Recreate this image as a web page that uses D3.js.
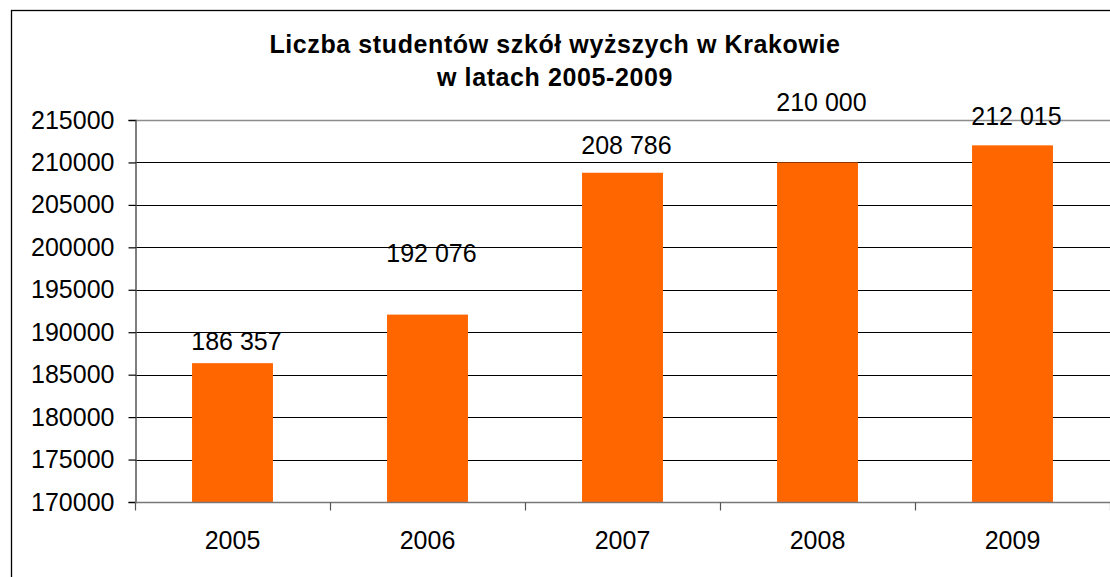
<!DOCTYPE html>
<html>
<head>
<meta charset="utf-8">
<script src="https://cdn.jsdelivr.net/npm/d3@7"></script>
<style>
  body { margin: 0; background: #fff; }
  svg { display: block; font-family: "Liberation Sans", Arial, sans-serif; }
</style>
</head>
<body>
<div id="chart"></div>
<script>
// Liczba studentów – słupki z etykietami wartości

const years = ["2005", "2006", "2007", "2008", "2009"];
const students = [186357, 192076, 208786, 210000, 212015];
const yTicks = [170000, 175000, 180000, 185000, 190000, 195000, 200000, 205000, 210000, 215000];
const titleLines = ["Liczba studentów szkół wyższych w Krakowie", "w latach 2005-2009"];

// labels were dragged by hand in the original, so each one sits at its own height
const labelLift = [22, 61, 27, 60, 29];

const width = 1110;
const height = 577;
const margin = { top: 120, right: 0, bottom: 75, left: 135 };

const svg = d3.select("#chart")
  .append("svg")
  .attr("width", width)
  .attr("height", height);

// outer chart frame (runs off the right and bottom edges)
svg.append("rect")
  .attr("x", 11.5)
  .attr("y", 10.5)
  .attr("width", width + 20)
  .attr("height", height + 20)
  .attr("fill", "none")
  .attr("stroke", "#000")
  .attr("stroke-width", 1.3);

const x = d3.scaleBand()
  .domain(years)
  .range([margin.left, width - margin.right]);

const xBar = d3.scaleBand()
  .domain(years)
  .range([margin.left, width - margin.right])
  .paddingInner(0.585)
  .paddingOuter(0.2925);

const y = d3.scaleLinear()
  .domain([d3.min(yTicks), d3.max(yTicks)])
  .range([height - margin.bottom, margin.top]);

const fmt = d3.formatLocale({ thousands: " ", grouping: [3], decimal: ",", currency: ["", ""] }).format(",d");

// gridlines
svg.append("g")
  .selectAll("line")
  .data(yTicks.slice(1, -1))
  .join("line")
  .attr("x1", margin.left)
  .attr("x2", width)
  .attr("y1", d => Math.round(y(d)) + 0.5)
  .attr("y2", d => Math.round(y(d)) + 0.5)
  .attr("stroke", "#000")
  .attr("stroke-width", 1.2);

// plot area top border
svg.append("line")
  .attr("x1", margin.left)
  .attr("x2", width)
  .attr("y1", Math.round(y(215000)) + 0.5)
  .attr("y2", Math.round(y(215000)) + 0.5)
  .attr("stroke", "#8c8c8c")
  .attr("stroke-width", 1.5);

const rows = years.map((yr, i) => ({ year: yr, value: students[i], lift: labelLift[i] }));

// bars
svg.append("g")
  .selectAll("rect")
  .data(rows)
  .join("rect")
  .attr("x", d => xBar(d.year))
  .attr("y", d => y(d.value))
  .attr("width", xBar.bandwidth())
  .attr("height", d => y.range()[0] - y(d.value))
  .attr("fill", "#ff6600");

// value labels
svg.append("g")
  .selectAll("text")
  .data(rows)
  .join("text")
  .attr("x", d => x(d.year) + x.bandwidth() / 2 + 4)
  .attr("y", d => y(d.value) - d.lift)
  .attr("dy", "0.35em")
  .attr("text-anchor", "middle")
  .style("font-size", "25px")
  .attr("fill", "#000")
  .text(d => fmt(d.value));

// y axis
const yAxis = svg.append("g")
  .attr("transform", `translate(${margin.left + 0.5},0)`)
  .call(d3.axisLeft(y).tickValues(yTicks).tickSize(7).tickPadding(14).tickFormat(d3.format("d")));
yAxis.select(".domain").attr("stroke", "#555").attr("stroke-width", 1.5);
yAxis.selectAll(".tick line").attr("stroke", "#000").attr("stroke-width", 1.2);
yAxis.selectAll(".tick text")
  .style("font-size", "25px")
  .style("font-family", "Liberation Sans, Arial, sans-serif")
  .attr("fill", "#000");

// x axis with ticks on category boundaries
const xAxisG = svg.append("g")
  .attr("transform", `translate(0,${Math.round(y.range()[0]) + 0.5})`);
xAxisG.append("line")
  .attr("x1", margin.left)
  .attr("x2", width)
  .attr("stroke", "#777")
  .attr("stroke-width", 1.5);
xAxisG.selectAll("line.tk")
  .data(years.concat(["end"]))
  .join("line")
  .attr("class", "tk")
  .attr("x1", (d, i) => margin.left + i * x.step() + 0.5)
  .attr("x2", (d, i) => margin.left + i * x.step() + 0.5)
  .attr("y1", 0)
  .attr("y2", 8)
  .attr("stroke", "#555")
  .attr("stroke-width", 1.2);
xAxisG.selectAll("text")
  .data(years)
  .join("text")
  .attr("x", d => x(d) + x.bandwidth() / 2)
  .attr("y", 38)
  .attr("dy", "0.35em")
  .attr("text-anchor", "middle")
  .style("font-size", "25px")
  .attr("fill", "#000")
  .text(d => d);

// title
svg.append("g")
  .selectAll("text")
  .data(titleLines)
  .join("text")
  .attr("x", 555)
  .attr("y", (d, i) => 53 + i * 33)
  .attr("text-anchor", "middle")
  .style("font-size", "25px")
  .style("letter-spacing", "0.6px")
  .style("font-weight", "bold")
  .attr("fill", "#000")
  .text(d => d);
</script>
</body>
</html>
